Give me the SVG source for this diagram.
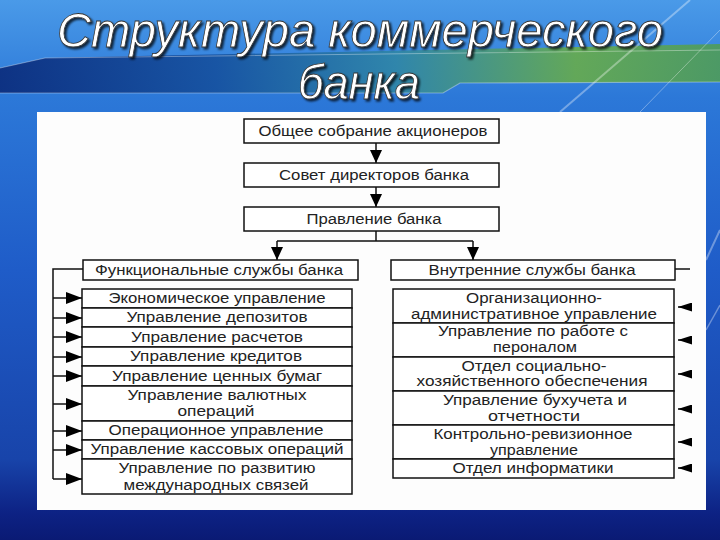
<svg xmlns="http://www.w3.org/2000/svg" width="720" height="540" viewBox="0 0 720 540">
<defs>
<linearGradient id="bg" x1="0" y1="0" x2="0" y2="1">
<stop offset="0" stop-color="#4a9ae8"/>
<stop offset="0.18" stop-color="#2c78d8"/>
<stop offset="0.5" stop-color="#1f5cc8"/>
<stop offset="0.85" stop-color="#1844aa"/>
<stop offset="0.95" stop-color="#0d2284"/>
<stop offset="1" stop-color="#0a1a74"/>
</linearGradient>
<linearGradient id="band" x1="0" y1="0" x2="1" y2="0">
<stop offset="0" stop-color="#0a2a7a"/>
<stop offset="0.3" stop-color="#15509e"/>
<stop offset="0.55" stop-color="#2f86a6"/>
<stop offset="0.8" stop-color="#68ac4a"/>
<stop offset="1" stop-color="#4f9c58"/>
</linearGradient>
<marker id="ah" markerUnits="userSpaceOnUse" markerWidth="16" markerHeight="12" viewBox="0 0 16 12" refX="16" refY="6" orient="auto">
<path d="M0,0 L16,6 L0,12 z" fill="#000"/>
</marker>
<marker id="ahv" markerUnits="userSpaceOnUse" markerWidth="13" markerHeight="12" viewBox="0 0 13 12" refX="13" refY="6" orient="auto">
<path d="M0,0 L13,6 L0,12 z" fill="#000"/>
</marker>
<marker id="ahs" markerUnits="userSpaceOnUse" markerWidth="14" markerHeight="9" viewBox="0 0 14 9" refX="14" refY="4.5" orient="auto">
<path d="M0,0 L14,4.5 L0,9 z" fill="#000"/>
</marker>
<filter id="sh" x="-10%" y="-20%" width="120%" height="150%">
<feDropShadow dx="2" dy="2" stdDeviation="1.2" flood-color="#000" flood-opacity="0.75"/>
</filter>
</defs>
<style>
.box{fill:#fff;stroke:#111;stroke-width:1.5}
.t{font-family:"Liberation Sans",Arial,sans-serif;font-size:14px;fill:#222;text-anchor:middle}
.c{fill:none;stroke:#111;stroke-width:1.5}
.title{font-family:"Liberation Sans",Arial,sans-serif;font-style:italic;font-size:48px;fill:#fff;stroke:#333;stroke-width:0.8;text-anchor:middle}
.streak{stroke:#fff;stroke-opacity:0.35;fill:none}
</style>

<!-- background -->
<rect x="0" y="0" width="720" height="540" fill="url(#bg)"/>
<polygon points="0,68 45,58 720,44 720,82 460,83 443,93 0,93" fill="url(#band)" opacity="0.9"/>
<polyline class="streak" stroke-width="1.2" stroke-opacity="0.8" points="0,68 45,58 720,50"/>
<polyline class="streak" stroke-width="1.2" stroke-opacity="0.8" points="0,93 443,93 460,83 720,82"/>
<line class="streak" x1="560" y1="112" x2="690" y2="0" stroke-width="2"/>
<line class="streak" x1="640" y1="112" x2="720" y2="30" stroke-width="1"/>
<line class="streak" x1="706" y1="260" x2="720" y2="230" stroke-width="2"/>
<line class="streak" x1="706" y1="330" x2="720" y2="305" stroke-width="1.5"/>

<!-- title -->
<g id="title" filter="url(#sh)">
<text class="title" x="360" y="47" textLength="606" lengthAdjust="spacingAndGlyphs">Структура коммерческого</text>
<text class="title" x="359" y="99" textLength="122" lengthAdjust="spacingAndGlyphs">банка</text>
</g>

<!-- panel -->
<rect x="37" y="112" width="669" height="398" fill="#fdfdfd"/>

<!-- connectors -->
<g id="connectors">
<line class="c" x1="376" y1="143" x2="376" y2="163" marker-end="url(#ahv)"/>
<line class="c" x1="376" y1="187" x2="376" y2="207" marker-end="url(#ahv)"/>
<path class="c" d="M376,231 V241 M277,241 H473"/>
<line class="c" x1="277" y1="241" x2="277" y2="260" marker-end="url(#ahv)"/>
<line class="c" x1="473" y1="241" x2="473" y2="260" marker-end="url(#ahv)"/>
<path class="c" d="M83,269 H53 V479"/>
<line class="c" x1="53" y1="298" x2="82" y2="298" marker-end="url(#ah)"/>
<line class="c" x1="53" y1="318" x2="82" y2="318" marker-end="url(#ah)"/>
<line class="c" x1="53" y1="337" x2="82" y2="337" marker-end="url(#ah)"/>
<line class="c" x1="53" y1="357" x2="82" y2="357" marker-end="url(#ah)"/>
<line class="c" x1="53" y1="376" x2="82" y2="376" marker-end="url(#ah)"/>
<line class="c" x1="53" y1="404" x2="82" y2="404" marker-end="url(#ah)"/>
<line class="c" x1="53" y1="431" x2="82" y2="431" marker-end="url(#ah)"/>
<line class="c" x1="53" y1="450" x2="82" y2="450" marker-end="url(#ah)"/>
<line class="c" x1="53" y1="479" x2="82" y2="479" marker-end="url(#ah)"/>
<line class="c" x1="675" y1="269" x2="690" y2="269"/>
<line class="c" x1="692" y1="307" x2="678" y2="307" marker-end="url(#ahs)"/>
<line class="c" x1="692" y1="340" x2="678" y2="340" marker-end="url(#ahs)"/>
<line class="c" x1="692" y1="374" x2="678" y2="374" marker-end="url(#ahs)"/>
<line class="c" x1="692" y1="409" x2="678" y2="409" marker-end="url(#ahs)"/>
<line class="c" x1="692" y1="442" x2="678" y2="442" marker-end="url(#ahs)"/>
<line class="c" x1="692" y1="468" x2="678" y2="468" marker-end="url(#ahs)"/>
</g>

<!-- top nodes -->
<g id="n-sobranie"><rect class="box" x="244" y="119" width="255" height="24"/>
<text class="t" x="373" y="136" textLength="229" lengthAdjust="spacingAndGlyphs">Общее собрание акционеров</text></g>
<g id="n-sovet"><rect class="box" x="244" y="163" width="255" height="24"/>
<text class="t" x="374" y="180" textLength="190" lengthAdjust="spacingAndGlyphs">Совет директоров банка</text></g>
<g id="n-pravlenie"><rect class="box" x="244" y="207" width="255" height="24"/>
<text class="t" x="374" y="224" textLength="135" lengthAdjust="spacingAndGlyphs">Правление банка</text></g>

<!-- headers -->
<g id="n-func"><rect class="box" x="83" y="260" width="275" height="20"/>
<text class="t" x="219" y="275" textLength="248" lengthAdjust="spacingAndGlyphs">Функциональные службы банка</text></g>
<g id="n-vnutr"><rect class="box" x="391" y="260" width="284" height="20"/>
<text class="t" x="532" y="275" textLength="207" lengthAdjust="spacingAndGlyphs">Внутренние службы банка</text></g>

<!-- left column -->
<g id="n-l1"><rect class="box" x="82" y="289" width="270" height="19"/>
<text class="t" x="217" y="303" textLength="217" lengthAdjust="spacingAndGlyphs">Экономическое управление</text></g>
<g id="n-l2"><rect class="box" x="82" y="308" width="270" height="19"/>
<text class="t" x="217" y="322" textLength="181" lengthAdjust="spacingAndGlyphs">Управление депозитов</text></g>
<g id="n-l3"><rect class="box" x="82" y="327" width="270" height="20"/>
<text class="t" x="217" y="342" textLength="172" lengthAdjust="spacingAndGlyphs">Управление расчетов</text></g>
<g id="n-l4"><rect class="box" x="82" y="347" width="270" height="19"/>
<text class="t" x="216" y="361" textLength="172" lengthAdjust="spacingAndGlyphs">Управление кредитов</text></g>
<g id="n-l5"><rect class="box" x="82" y="366" width="270" height="20"/>
<text class="t" x="217" y="381" textLength="210" lengthAdjust="spacingAndGlyphs">Управление ценных бумаг</text></g>
<g id="n-l6"><rect class="box" x="82" y="386" width="270" height="35"/>
<text class="t" x="217" y="400" textLength="179" lengthAdjust="spacingAndGlyphs">Управление валютных</text>
<text class="t" x="216" y="416" textLength="77" lengthAdjust="spacingAndGlyphs">операций</text></g>
<g id="n-l7"><rect class="box" x="82" y="421" width="270" height="19"/>
<text class="t" x="216" y="435" textLength="215" lengthAdjust="spacingAndGlyphs">Операционное управление</text></g>
<g id="n-l8"><rect class="box" x="82" y="440" width="270" height="19"/>
<text class="t" x="217" y="454" textLength="253" lengthAdjust="spacingAndGlyphs">Управление кассовых операций</text></g>
<g id="n-l9"><rect class="box" x="82" y="459" width="270" height="35"/>
<text class="t" x="217" y="473" textLength="197" lengthAdjust="spacingAndGlyphs">Управление по развитию</text>
<text class="t" x="216" y="490" textLength="185" lengthAdjust="spacingAndGlyphs">международных связей</text></g>

<!-- right column -->
<g id="n-r1"><rect class="box" x="393" y="289" width="281" height="34"/>
<text class="t" x="534" y="303" textLength="136" lengthAdjust="spacingAndGlyphs">Организационно-</text>
<text class="t" x="534" y="319" textLength="246" lengthAdjust="spacingAndGlyphs">административное управление</text></g>
<g id="n-r2"><rect class="box" x="393" y="323" width="281" height="34"/>
<text class="t" x="533" y="336" textLength="190" lengthAdjust="spacingAndGlyphs">Управление по работе с</text>
<text class="t" x="535" y="352" textLength="84" lengthAdjust="spacingAndGlyphs">пероналом</text></g>
<g id="n-r3"><rect class="box" x="393" y="357" width="281" height="34"/>
<text class="t" x="534" y="371" textLength="145" lengthAdjust="spacingAndGlyphs">Отдел социально-</text>
<text class="t" x="532" y="386" textLength="231" lengthAdjust="spacingAndGlyphs">хозяйственного обеспечения</text></g>
<g id="n-r4"><rect class="box" x="393" y="391" width="281" height="34"/>
<text class="t" x="535" y="405" textLength="184" lengthAdjust="spacingAndGlyphs">Управление бухучета и</text>
<text class="t" x="534" y="421" textLength="92" lengthAdjust="spacingAndGlyphs">отчетности</text></g>
<g id="n-r5"><rect class="box" x="393" y="425" width="281" height="34"/>
<text class="t" x="533" y="439" textLength="199" lengthAdjust="spacingAndGlyphs">Контрольно-ревизионное</text>
<text class="t" x="534" y="455" textLength="88" lengthAdjust="spacingAndGlyphs">управление</text></g>
<g id="n-r6"><rect class="box" x="393" y="459" width="281" height="19"/>
<text class="t" x="533" y="473" textLength="161" lengthAdjust="spacingAndGlyphs">Отдел информатики</text></g>
</svg>
